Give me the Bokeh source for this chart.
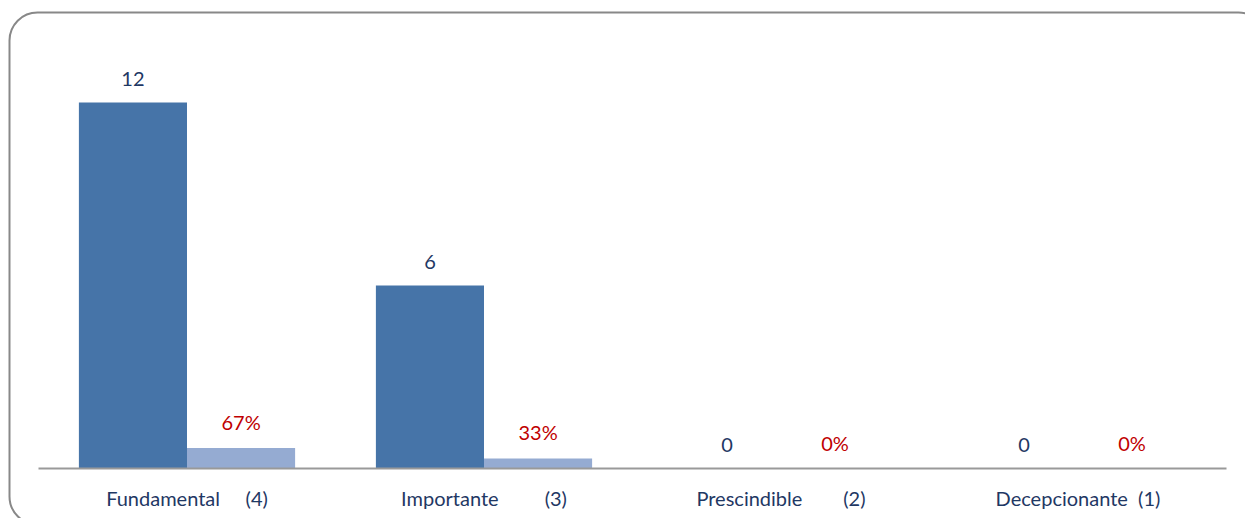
from bokeh.plotting import figure
from bokeh.models import ColumnDataSource, Range1d, LabelSet
from bokeh.core.properties import value
from bokeh.transform import dodge
from bokeh.embed import file_html
from bokeh.resources import INLINE

categories = ["Fundamental", "Importante", "Prescindible", "Decepcionante"]
codes = ["(4)", "(3)", "(2)", "(1)"]
counts = [12, 6, 0, 0]
shares = [0.67, 0.33, 0.0, 0.0]
count_labels = ["12", "6", "0", "0"]
share_labels = ["67%", "33%", "0%", "0%"]

# spacing (non-breaking spaces) between name and code, as in the original labels
gaps = [5, 9, 8, 2]
cat_labels = [c + "\u00a0" * g + k for c, g, k in zip(categories, gaps, codes)]
xpos = [i + 0.5 for i in range(len(categories))]   # category slots on the x scale

src = ColumnDataSource(dict(x=xpos, label=cat_labels, zero=[0] * len(categories),
                            counts=counts, shares=shares,
                            count_labels=count_labels, share_labels=share_labels))

FONT = "Lato"
NAVY = "#1F3864"
RED = "#C00000"

n = len(categories)
p = figure(width=1245, height=518,
           x_range=Range1d(-38 / 297, n + 19 / 297), y_range=Range1d(-50 / 30.5, 468 / 30.5),
           output_backend="svg", toolbar_location=None,
           min_border_left=0, min_border_right=0, min_border_top=0, min_border_bottom=0)

# rounded outer frame (runs off the right and bottom edges, as in the original)
p.quad(left=[-29 / 297], right=[n + 40 / 297], top=[456 / 30.5], bottom=[-56 / 30.5],
       fill_color=None, line_color="#888888", line_width=2, border_radius=28)

bw = 0.364
p.vbar(x=dodge("x", -bw / 2), top="counts", width=bw, source=src,
       fill_color="#4674A8", line_color=None)
p.vbar(x=dodge("x", bw / 2), top="shares", width=bw, source=src,
       fill_color="#95ABD2", line_color=None)

# baseline (category axis line)
p.segment(x0=[0], y0=[0], x1=[n], y1=[0], line_color="#999999", line_width=2)

p.add_layout(LabelSet(x=dodge("x", -bw / 2), y="counts", text="count_labels",
                      source=src, y_offset=24, text_align="center", text_baseline="middle",
                      text_font=value(FONT), text_font_size="20px", text_color=NAVY))
p.add_layout(LabelSet(x=dodge("x", bw / 2), y="shares", text="share_labels",
                      source=src, y_offset=26, text_align="center", text_baseline="middle",
                      text_font=value(FONT), text_font_size="20px", text_color=RED))
# category labels
p.add_layout(LabelSet(x="x", y="zero", text="label", source=src, y_offset=-29,
                      text_align="center", text_baseline="middle",
                      text_font=value(FONT), text_font_size="20px", text_color=NAVY))

p.axis.visible = False
p.grid.visible = False
p.outline_line_color = None

open("out.html", "w").write(file_html(p, INLINE))
